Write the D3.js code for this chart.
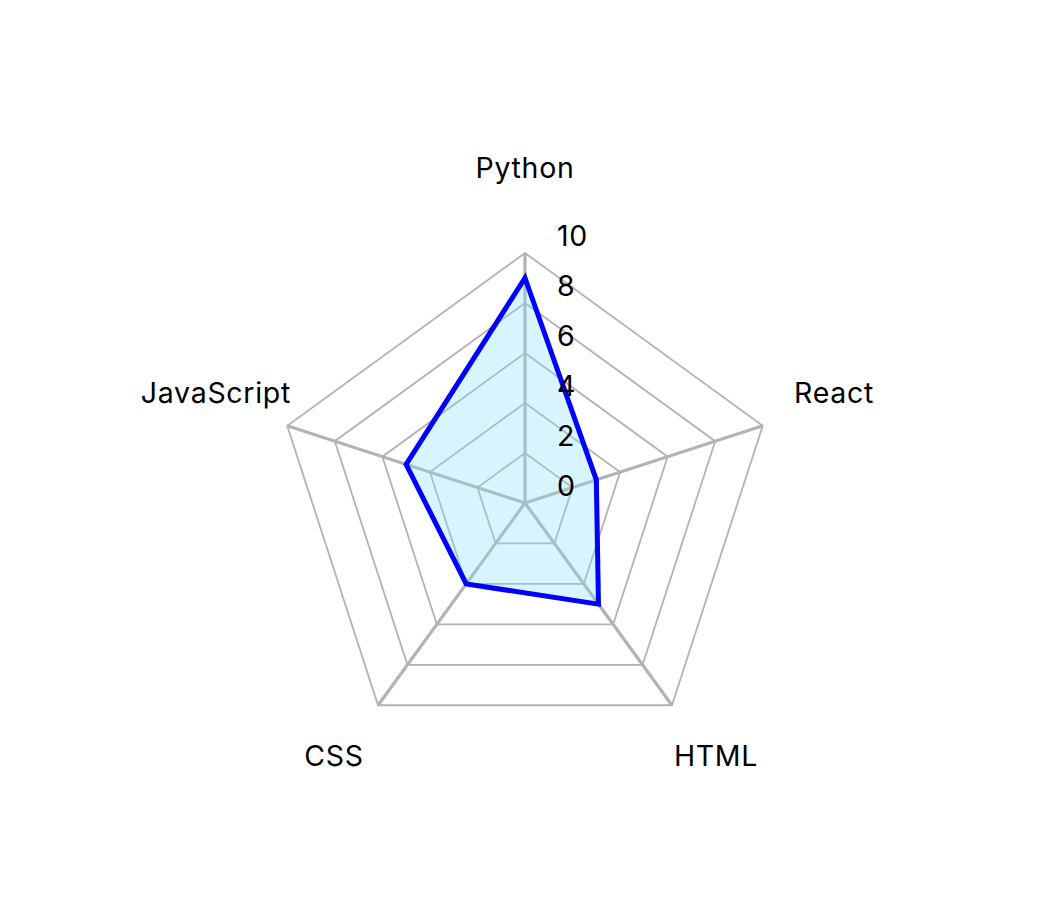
<!DOCTYPE html>
<html>
<head>
<meta charset="utf-8">
<script src="https://cdn.jsdelivr.net/npm/d3@7"></script>
<style>
  html, body { margin: 0; padding: 0; background: #ffffff; }
  svg { display: block; }
  text { font-family: Inter, "Noto Sans", sans-serif; fill: #000; }
</style>
</head>
<body>
<svg id="chart" width="1050" height="905"></svg>
<script>
const categories = ["Python", "React", "HTML", "CSS", "JavaScript"];
const values = [9, 3, 5, 4, 5];
const tickValues = [0, 2, 4, 6, 8, 10];
const gridLevels = [2, 4, 6, 8, 10];

const width = 1050, height = 905;
const cx = 525, cy = 503;
const outerR = 250;
const fontSize = 28.5;

const svg = d3.select("#chart");
const g = svg.append("g").attr("transform", `translate(${cx},${cy})`);

const r = d3.scaleLinear().domain([0, 10]).range([0, outerR]);
const angle = d3.scaleLinear().domain([0, categories.length]).range([0, 2 * Math.PI]);

function pt(i, v) {
  const a = angle(i);
  return [r(v) * Math.sin(a), -r(v) * Math.cos(a)];
}

// grid rings
g.selectAll("path.ring").data(gridLevels).join("path")
  .attr("class", "ring")
  .attr("d", lvl => d3.line()(categories.map((c, i) => pt(i, lvl))) + "Z")
  .attr("fill", "none")
  .attr("stroke", "#b3b3b3")
  .attr("stroke-width", 1.8);

// spokes
g.selectAll("line.spoke").data(categories).join("line")
  .attr("class", "spoke")
  .attr("x1", 0).attr("y1", 0)
  .attr("x2", (c, i) => pt(i, 10)[0])
  .attr("y2", (c, i) => pt(i, 10)[1])
  .attr("stroke", "#b3b3b3")
  .attr("stroke-width", 3.2);

// data area
const areaPath = d3.line()(values.map((v, i) => pt(i, v))) + "Z";
g.append("path")
  .attr("d", areaPath)
  .attr("fill", "rgba(135,222,248,0.32)")
  .attr("stroke", "none");
g.append("path")
  .attr("d", areaPath)
  .attr("fill", "none")
  .attr("stroke", "#0000ff")
  .attr("stroke-width", 5)
  .attr("stroke-linejoin", "miter");

// category labels
const labelR = outerR * 1.3;
g.selectAll("text.cat").data(categories).join("text")
  .attr("class", "cat")
  .attr("x", (c, i) => labelR * Math.sin(angle(i)))
  .attr("y", (c, i) => -labelR * Math.cos(angle(i)))
  .attr("text-anchor", "middle")
  .attr("font-size", fontSize)
  .attr("letter-spacing", 0.7)
  .text(d => d);

// tick labels
g.selectAll("text.tick").data(tickValues).join("text")
  .attr("class", "tick")
  .attr("x", 32)
  .attr("y", d => -r(d) - 7)
  .attr("text-anchor", "start")
  .attr("font-size", fontSize)
  .attr("letter-spacing", 0.7)
  .text(d => d);
</script>
</body>
</html>
